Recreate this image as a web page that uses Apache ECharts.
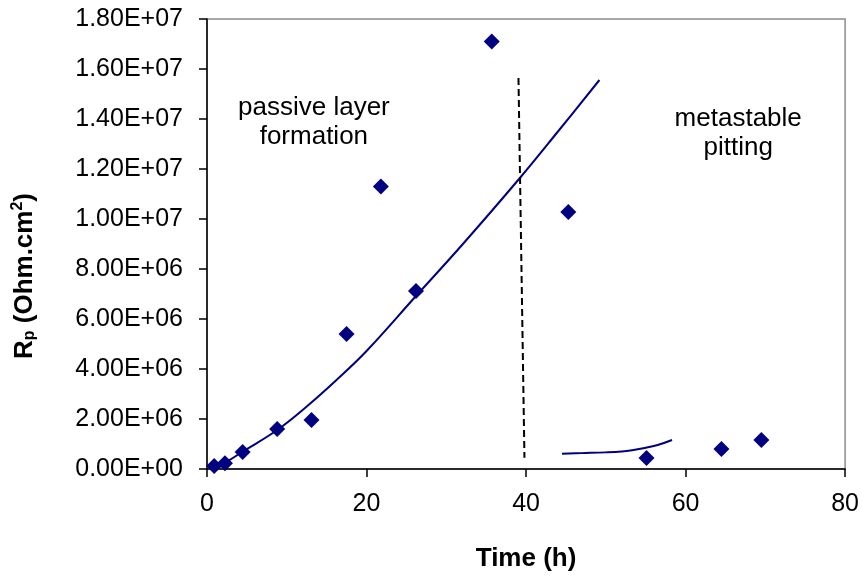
<!DOCTYPE html>
<html>
<head>
<meta charset="utf-8">
<script src="https://cdn.jsdelivr.net/npm/echarts@6/dist/echarts.min.js"></script>
<style>
html,body{margin:0;padding:0;background:#fff;}
#chart{width:862px;height:578px;}
</style>
</head>
<body>
<div id="chart"></div>
<script>
// Measured points: time (h), Rp (Ohm.cm2)
var timeH = [0.9, 2.25, 4.47, 8.8, 13.1, 17.5, 21.8, 26.2, 35.7, 45.3, 55.1, 64.5, 69.5];
var rpValues = [1.2e5, 2.3e5, 6.8e5, 1.6e6, 1.96e6, 5.4e6, 1.13e7, 7.12e6, 1.71e7, 1.028e7, 4.4e5, 8.0e5, 1.16e6];

// Trend line 1 (passive layer formation)
var trend1X = [0.9, 2.5, 4.5, 8.8, 12.5, 16.2, 20, 26.2, 32, 39.2, 44, 49.2];
var trend1Y = [0.8e5, 3.0e5, 7.0e5, 1.56e6, 2.5e6, 3.55e6, 4.72e6, 6.92e6, 8.97e6, 1.163e7, 1.35e7, 1.556e7];

// Trend line 2 (metastable pitting)
var trend2X = [44.5, 47, 50, 52, 53.3, 54.7, 56.5, 58.3];
var trend2Y = [6.1e5, 6.35e5, 6.65e5, 7.0e5, 7.5e5, 8.3e5, 9.6e5, 1.16e6];

// Dashed separator
var sepX = [39.05, 39.8];
var sepY = [1.564e7, 4.5e5];

// Annotations
var noteText = ['passive layer\nformation', 'metastable\npitting'];
var noteX = [13.4, 66.6];
var noteY = [1.388e7, 1.344e7];

var xTicks = [0, 20, 40, 60, 80];

function zip(a, b){ return a.map(function(v,i){ return [v, b[i]]; }); }

function sci(v){
  if (v === 0) return '0.00E+00';
  var e = Math.floor(Math.log10(v) + 1e-9);
  var m = v / Math.pow(10, e);
  return m.toFixed(2) + 'E+' + (e < 10 ? '0' : '') + e;
}

var FONT = "'Liberation Sans', Arial, sans-serif";
var NAVY = '#000080';

var chart = echarts.init(document.getElementById('chart'), null, {renderer:'canvas'});
chart.setOption({
  animation: false,
  backgroundColor: '#ffffff',
  grid: {left: 207, right: 16, top: 19, bottom: 109, show: true, borderColor: '#8c8c8c', borderWidth: 1.5, backgroundColor: 'transparent'},
  graphic: [{
    type: 'text', x: 24, y: 276, rotation: Math.PI / 2,
    style: {
      text: '{b|R}{sub|p}{b| (Ohm.cm}{sup|2}{b|)}',
      align: 'center', verticalAlign: 'middle',
      rich: {
        b: {fontFamily: FONT, fontSize: 26, fontWeight: 'bold', fill: '#000', verticalAlign: 'bottom'},
        sub: {fontFamily: FONT, fontSize: 16, fontWeight: 'bold', fill: '#000', padding: [10, 0, 0, 0], verticalAlign: 'bottom'},
        sup: {fontFamily: FONT, fontSize: 16, fontWeight: 'bold', fill: '#000', padding: [0, 0, 12, 0], verticalAlign: 'bottom'}
      }
    }
  }],
  xAxis: {
    type: 'value', min: xTicks[0], max: xTicks[xTicks.length-1], interval: 20,
    name: 'Time (h)', nameLocation: 'middle', nameGap: 77,
    nameTextStyle: {fontFamily: FONT, fontSize: 26, fontWeight: 'bold', color: '#000'},
    axisLine: {show: true, onZero: false, lineStyle: {color: '#000', width: 1.5}},
    axisTick: {show: true, inside: false, length: 8, lineStyle: {color: '#000', width: 1.5}},
    axisLabel: {fontFamily: FONT, fontSize: 25, color: '#000', margin: 23},
    splitLine: {show: false}
  },
  yAxis: {
    type: 'value', min: 0, max: 1.8e7, interval: 2e6,
    axisLine: {show: true, lineStyle: {color: '#000', width: 1.5}},
    axisTick: {show: true, inside: false, length: 8, lineStyle: {color: '#000', width: 1.5}},
    axisLabel: {fontFamily: FONT, fontSize: 25, color: '#000', margin: 24, formatter: sci},
    splitLine: {show: false}
  },
  series: [
    {
      type: 'line', data: zip(trend1X, trend1Y), smooth: 0.4, showSymbol: false, symbol: 'none',
      lineStyle: {color: NAVY, width: 2}, z: 2
    },
    {
      type: 'line', data: zip(trend2X, trend2Y), smooth: 0.4, showSymbol: false, symbol: 'none',
      lineStyle: {color: NAVY, width: 2}, z: 2
    },
    {
      type: 'line', data: zip(sepX, sepY), showSymbol: false, symbol: 'none',
      lineStyle: {color: '#000', width: 2, type: [7, 4]}, z: 2
    },
    {
      type: 'scatter', data: zip(timeH, rpValues), symbol: 'diamond', symbolSize: 16,
      itemStyle: {color: NAVY, opacity: 1}, z: 3
    },
    {
      type: 'scatter', symbolSize: 0, silent: true,
      itemStyle: {opacity: 1},
      data: noteText.map(function(t, i){ return {value: [noteX[i], noteY[i]], name: t}; }),
      label: {show: true, position: 'inside', formatter: function(p){ return p.name; },
        fontFamily: FONT, fontSize: 26, color: '#000', textBorderWidth: 0, opacity: 1, lineHeight: 29, align: 'center', verticalAlign: 'middle'}
    }
  ]
});
</script>
</body>
</html>
